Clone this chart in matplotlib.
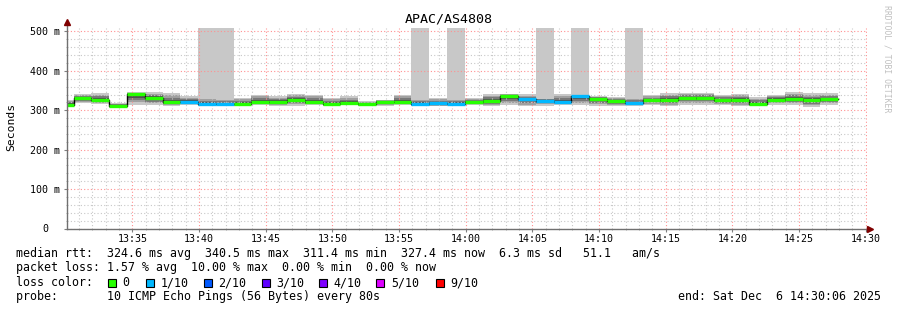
import numpy as np
import matplotlib.pyplot as plt
from matplotlib.patches import Rectangle

# graph text
title = "APAC/AS4808"
y_label = "Seconds"
x_tick_labels = ["13:35", "13:40", "13:45", "13:50", "13:55", "14:00",
                 "14:05", "14:10", "14:15", "14:20", "14:25", "14:30"]
y_ticks = [0, 100, 200, 300, 400, 500]
y_tick_labels = ["0", "100 m", "200 m", "300 m", "400 m", "500 m"]

# one value per 80 s step, ms; time in seconds after 13:30:00
step_seconds = 80
first_edge = -44
median = [314, 331, 326, 311.4, 340.5, 331, 320, 321, 316, 315,
          317, 321, 320, 325, 320, 317, 318, 316, 321, 321,
          316, 318, 317, 320, 323, 335, 328, 323, 321, 335,
          329, 323, 318, 326, 326, 331, 331, 325, 326, 317,
          327, 329, 325, 327.4]
smoke_hi = [327, 340, 344, 318, 346, 346, 344, 335, 332, 330,
            331, 340, 336, 342, 340, 331, 335, 323, 327, 340,
            330, 331, 330, 331, 342, 342, 340, 332, 342, 340,
            336, 334, 332, 338, 344, 344, 344, 340, 342, 334,
            340, 346, 344, 344]
smoke_lo = [310, 318, 316, 306, 313, 313, 310, 314, 310, 312,
            310, 314, 312, 312, 314, 310, 314, 310, 310, 314,
            310, 310, 312, 314, 310, 314, 310, 312, 314, 314,
            310, 310, 312, 314, 310, 314, 314, 314, 310, 310,
            314, 314, 308, 314]
lost = [0, 0, 0, 0, 0, 0, 0, 1, 1, 1,
        0, 0, 0, 0, 0, 0, 0, 0, 0, 0,
        1, 1, 1, 0, 0, 0, 1, 1, 1, 1,
        0, 0, 1, 0, 0, 0, 0, 0, 0, 0,
        0, 0, 0, 0]
lost_smoke = [8, 9, 20, 22, 27, 29, 32]

loss_labels = ["0", "1/10", "2/10", "3/10", "4/10", "5/10", "9/10"]
loss_colors = ["#26ff00", "#00b8ff", "#0059ff", "#5e00ff", "#7e00ff", "#dd00ff", "#ff0000"]

legend_lines = [
    "median rtt:  324.6 ms avg  340.5 ms max  311.4 ms min  327.4 ms now  6.3 ms sd   51.1   am/s",
    "packet loss: 1.57 % avg  10.00 % max  0.00 % min  0.00 % now",
    "loss color:",
    "probe:       10 ICMP Echo Pings (56 Bytes) every 80s",
]
end_text = "end: Sat Dec  6 14:30:06 2025"

W, H = 897, 310
fig = plt.figure(figsize=(W / 100, H / 100), dpi=100)
ax = fig.add_axes([67 / W, 1 - 228.5 / H, 800 / W, 201 / H])
mono = "DejaVu Sans Mono"

n = len(median)
starts = (first_edge + np.arange(n) * step_seconds) / 60.0
width = step_seconds / 60.0
med = np.array(median)
hi = np.array(smoke_hi)
lo = np.array(smoke_lo)
top = 510

# smoke: outer band light, getting darker towards the median
full_hi = hi.copy().astype(float)
full_hi[lost_smoke] = top
ax.bar(starts, full_hi - lo, bottom=lo, width=width, align="edge",
       color="#c8c8c8", linewidth=0, zorder=1)
for frac, col in [(0.75, "#a0a0a0"), (0.5, "#787878"), (0.3, "#505050")]:
    b = med - (med - lo) * frac
    t = med + (hi - med) * frac
    ax.bar(starts, t - b, bottom=b, width=width, align="edge",
           color=col, linewidth=0, zorder=1)

# median line, coloured by loss
ax.step(np.append(starts, starts[-1] + width), np.append(med, med[-1]),
        where="post", color="black", lw=1.0, zorder=3)
ax.hlines(med, starts, starts + width, colors=[loss_colors[l] for l in lost],
          lw=2.4, zorder=4)

ax.set_xlim(0.1, 60.1)
ax.set_ylim(0, top)

# grid
ax.set_xticks(np.arange(5, 61, 5))
ax.set_xticks(np.arange(1, 61, 1), minor=True)
ax.set_yticks(y_ticks)
ax.set_yticks(np.arange(0, 511, 20), minor=True)
ax.set_axisbelow(False)
for axis in (ax.xaxis, ax.yaxis):
    axis.grid(True, which="minor", color="#c8c8c8", linestyle=(0, (1, 2)), lw=0.8)
    axis.grid(True, which="major", color="#ff9090", linestyle=(0, (1, 2)), lw=0.8)

ax.set_xticklabels(x_tick_labels, fontfamily=mono, fontsize=7.2)
ax.set_yticklabels(y_tick_labels, fontfamily=mono, fontsize=7.2, ha="center")
ax.tick_params(axis="y", which="major", length=2, pad=13.5, color="#808080")
ax.tick_params(axis="x", which="major", length=2, pad=2, color="#808080")
ax.tick_params(which="minor", length=1, color="#a0a0a0")

for s in ax.spines.values():
    s.set_visible(False)
ax.plot([0, 0], [0, 1.027], transform=ax.transAxes, color="#707070", lw=1, clip_on=False, zorder=5)
ax.plot([0, 1.004], [0, 0], transform=ax.transAxes, color="#707070", lw=1, clip_on=False, zorder=5)
ax.plot(0, 1.027, marker="^", color="#7f0000", ms=4, transform=ax.transAxes, clip_on=False, zorder=6)
ax.plot(1.004, 0, marker=">", color="#7f0000", ms=4, transform=ax.transAxes, clip_on=False, zorder=6)

fig.text(0.5, 1 - 19 / H, title, ha="center", va="center", fontfamily=mono, fontsize=9.6)
fig.text(11 / W, 1 - 127 / H, y_label, rotation=90, ha="center", va="center",
         fontfamily=mono, fontsize=8.2)
fig.text(887 / W, 1 - 5 / H, "RRDTOOL / TOBI OETIKER", rotation=270, ha="center", va="top",
         fontfamily=mono, fontsize=5.9, color="#c0c0c0")

# legend
line_y = [254, 268, 282.5, 296.5]
for txt, yy in zip(legend_lines, line_y):
    fig.text(16 / W, 1 - yy / H, txt, ha="left", va="center", fontfamily=mono, fontsize=8.4)
fig.text(881 / W, 1 - line_y[3] / H, end_text, ha="right", va="center", fontfamily=mono, fontsize=8.4)

box_x = [108, 146, 203.5, 261.5, 318.5, 376, 435.5]
label_x = [122, 160.5, 218, 276.5, 333.5, 391.5, 450]
for bx, lx, lab, col in zip(box_x, label_x, loss_labels, loss_colors):
    fig.patches.append(Rectangle((bx / W, 1 - (line_y[2] + 4) / H), 8 / W, 8 / H,
                                 transform=fig.transFigure, facecolor=col,
                                 edgecolor="black", lw=0.8))
    fig.text(lx / W, 1 - line_y[2] / H, lab, ha="left", va="center", fontfamily=mono, fontsize=8.4)

fig.savefig("out.png", dpi=100)
